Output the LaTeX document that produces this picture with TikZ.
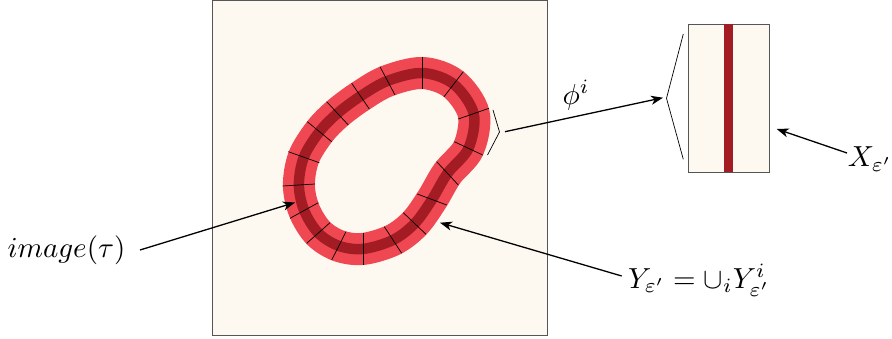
\documentclass[tikz,border=0pt]{standalone}
\usetikzlibrary{arrows.meta}
\definecolor{cream}{RGB}{253,249,241}
\definecolor{lightred}{RGB}{240,72,82}
\definecolor{darkred}{RGB}{163,28,35}
\definecolor{framegray}{RGB}{85,85,85}
\tikzset{
  panel/.style={draw=framegray,line width=0.9pt,fill=cream},
  lbl/.style={inner sep=0pt,scale=2.9,anchor=base},
  pointer/.style={-{Stealth[length=12pt,width=9pt,inset=3.5pt]},line width=1.3pt},
  tick/.style={line width=0.7pt,black},
  brace/.style={line width=0.7pt,black}
}
\begin{document}
\begin{tikzpicture}[x=1pt,y=-1pt]
\useasboundingbox (0,0) rectangle (892,339);
% main square
\draw[panel] (212.7,0.8) rectangle (547.5,335);
% ring (centre line through the tick midpoints)
\def\ring{plot[smooth cycle,tension=0.55] coordinates {
 (422.7,73) (453.7,84.2) (473.7,113.7) (468.5,148.3) (447.5,173.3) (432,199.5)
 (414.7,223.5) (393,240) (363.3,248.9) (338.9,245.9) (318.3,233) (304.2,210.5)
 (298.9,185) (303.8,157.2) (319.5,131.7) (337.5,113.3) (360.5,96.2) (387.5,80.9)}}
\draw[lightred,line width=32pt] \ring;
\draw[darkred,line width=10.5pt] \ring;
% ticks
\foreach \a/\b/\c/\d in {
 422.7/56.7/422.7/89.3, 463.3/71.7/444/96.7, 489/108.3/458.3/119,
 482.7/155/454.3/141.7, 458.3/185/436.7/161.7, 446.7/205/417.3/194,
 426/234.3/403.3/212.7, 401.7/253.3/384.3/226.7, 363.3/265/363.3/232.7,
 331.7/260/346/231.7, 306.7/243.3/330/222.7, 290/218.3/318.3/202.7,
 282.7/186/315/184, 288.3/151.7/319.3/162.7, 307.3/121.7/331.7/141.7,
 326.7/101.7/348.3/125, 351.7/83.3/369.3/109, 380/66.7/395/95}
 \draw[tick] (\a,\b) -- (\c,\d);
% small bracket near ring
\draw[brace] (493,110) -- (499.5,132) -- (487.5,155);
% small rectangle
\draw[panel] (688.3,24) rectangle (769.3,172.7);
\fill[darkred] (724.3,24.5) rectangle (733.3,172.2);
\draw[brace] (683.3,34) -- (666.5,98.3) -- (683.3,159.3);
% labels
\node[lbl] (imgL) at (66.5,258) {$image(\tau)$};
\node[lbl] (phiL) at (576,104.3) {$\phi^i$};
\node[lbl] (yL) at (699,288.3) {$Y_{\varepsilon'}=\cup_i Y^i_{\varepsilon'}$};
\node[lbl] (xL) at (870,166.7) {$X_{\varepsilon'}$};
% arrow endpoints
\coordinate (imgS) at (140,250);
\coordinate (imgT) at (295,202.5);
\coordinate (phiS) at (505,131.7);
\coordinate (phiT) at (663,97.7);
\coordinate (yS) at (621.7,276);
\coordinate (yT) at (440,222.7);
\coordinate (xS) at (847,153);
\coordinate (xT) at (776.7,129);
\draw[pointer] (imgS) -- (imgT);
\draw[pointer] (phiS) -- (phiT);
\draw[pointer] (yS) -- (yT);
\draw[pointer] (xS) -- (xT);
\end{tikzpicture}
\end{document}
